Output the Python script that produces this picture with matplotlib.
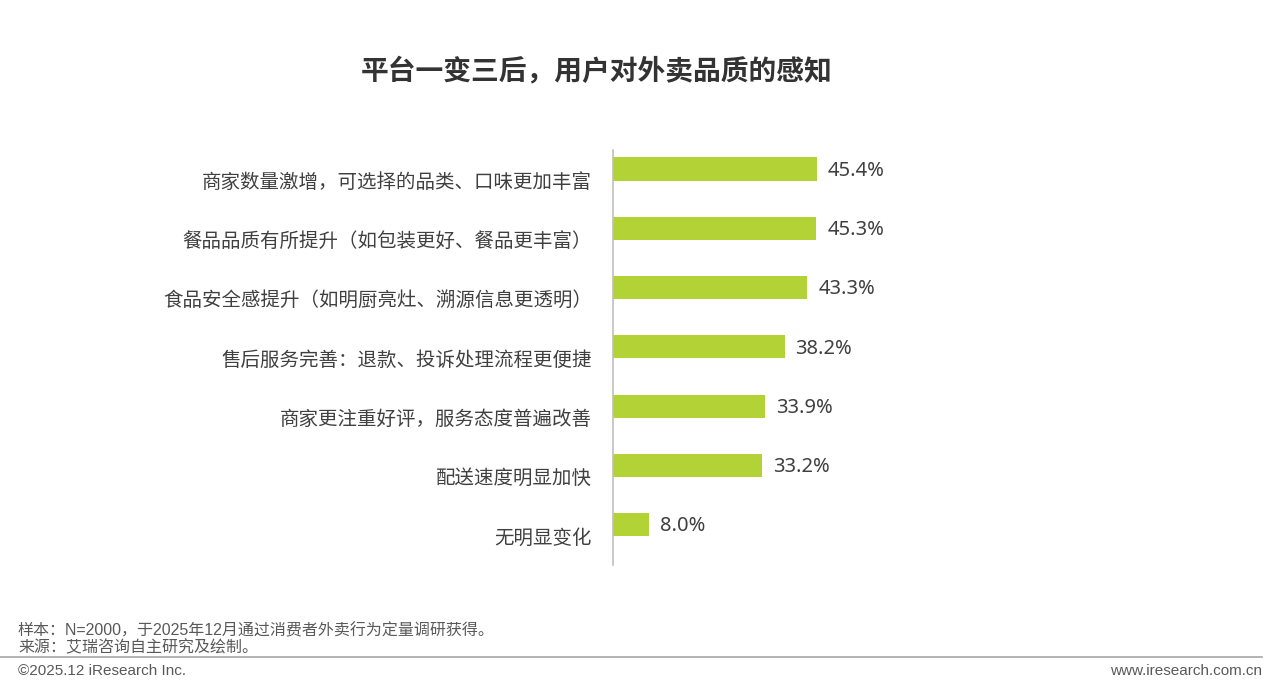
import matplotlib.pyplot as plt
from matplotlib.lines import Line2D

plt.rcParams['font.family'] = ['Noto Sans CJK SC', 'DejaVu Sans']

categories = [
    '商家数量激增，可选择的品类、口味更加丰富',
    '餐品品质有所提升（如包装更好、餐品更丰富）',
    '食品安全感提升（如明厨亮灶、溯源信息更透明）',
    '售后服务完善：退款、投诉处理流程更便捷',
    '商家更注重好评，服务态度普遍改善',
    '配送速度明显加快',
    '无明显变化',
]
values = [45.4, 45.3, 43.3, 38.2, 33.9, 33.2, 8.0]

title = '平台一变三后，用户对外卖品质的感知'
note = '样本：N=2000，于2025年12月通过消费者外卖行为定量调研获得。'
source = '来源：艾瑞咨询自主研究及绘制。'
copyright_txt = '©2025.12 iResearch Inc.'
site = 'www.iresearch.com.cn'

W, H = 1270, 684
fig = plt.figure(figsize=(W / 100, H / 100), dpi=100)

# axes: left spine at x=613, y from 150 to 565 (pixels from top)
x0, x1 = 613, 613 + 4.49 * 60
y_top, y_bot = 150, 565
ax = fig.add_axes([x0 / W, 1 - y_bot / H, (x1 - x0) / W, (y_bot - y_top) / H])

pos = list(range(len(categories)))
# bars sit a bit above the category label centres, as in the original
bar_pos = [p - 0.18 for p in pos]
ax.barh(bar_pos, values, height=0.39, color='#B2D235')
ax.set_ylim(len(categories) - 0.5, -0.5)
ax.set_xlim(0, 60)

for p, v in zip(bar_pos, values):
    ax.text(v + 2.4, p + 0.03, f'{v:.1f}%', va='center', ha='left', fontsize=14.5,
            color='#404040', family=['Noto Sans'])

ax.set_yticks(pos)
ax.set_yticklabels(categories, fontsize=14, color='#404040')
ax.tick_params(axis='y', length=0, pad=15)
ax.set_xticks([])
for s in ['top', 'right', 'bottom']:
    ax.spines[s].set_visible(False)
ax.spines['left'].set_color('#bfbfbf')
ax.spines['left'].set_linewidth(1.2)

fig.text(597 / W, 1 - 71 / H, title, ha='center', va='center', fontsize=20,
         fontweight='bold', color='#333333')

fig.text(18 / W, 1 - 631 / H, note, ha='left', va='center', fontsize=11.5,
         color='#595959', family=['Liberation Sans', 'Noto Sans CJK SC'])
fig.text(18 / W, 1 - 648 / H, source, ha='left', va='center', fontsize=11.5,
         color='#595959')
fig.add_artist(Line2D([0, 1262 / W], [1 - 657 / H, 1 - 657 / H], color='#a6a6a6',
                      linewidth=1.2, transform=fig.transFigure))
fig.text(18 / W, 1 - 671 / H, copyright_txt, ha='left', va='center', fontsize=11,
         color='#595959', family=['Liberation Sans'])
fig.text(1262 / W, 1 - 671 / H, site, ha='right', va='center', fontsize=11,
         color='#595959', family=['Liberation Sans'])

fig.savefig('out.png', dpi=100)
